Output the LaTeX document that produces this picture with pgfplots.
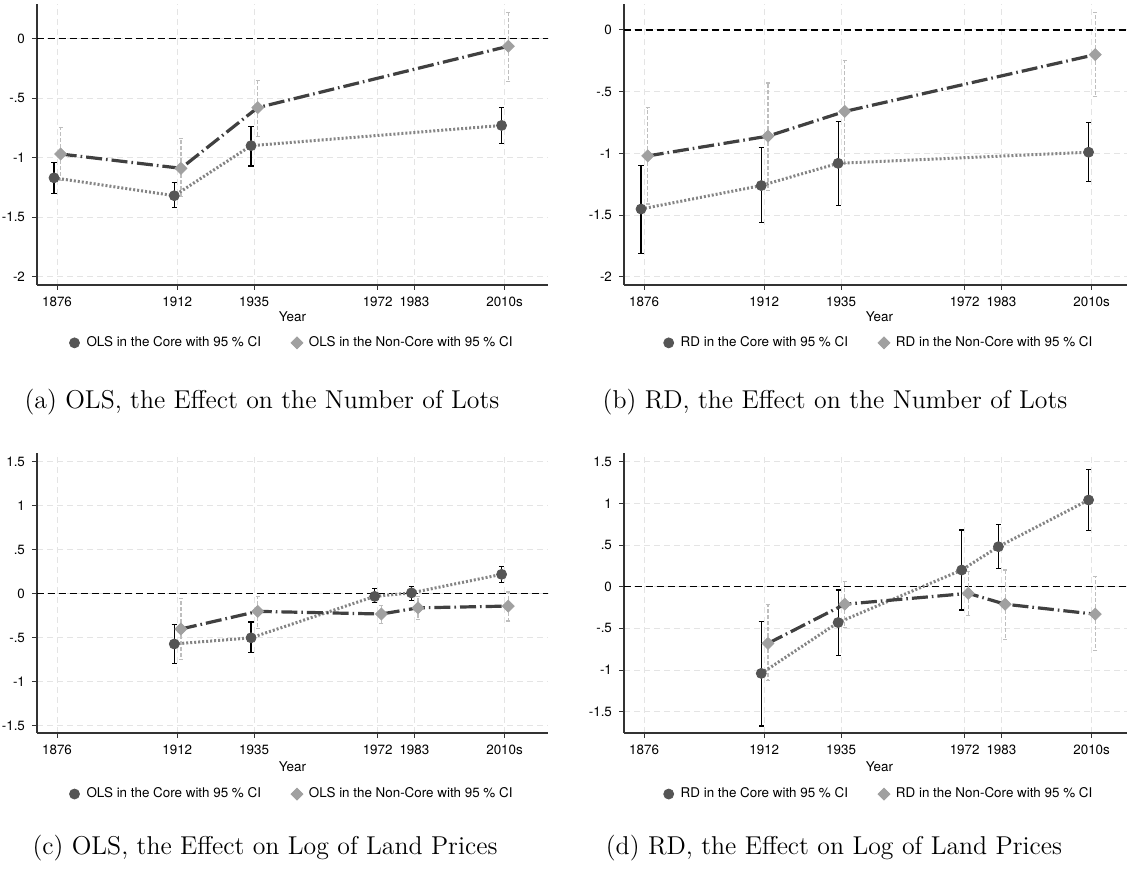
\documentclass[border=0pt]{standalone}
\usepackage{fontspec}
\usepackage{pgfplots}
\usepackage{pgfplotstable}
\pgfplotsset{compat=1.18}
\newfontfamily\statafont{TeX Gyre Heros}
\newcommand{\sfs}{\statafont\fontsize{6.7}{8}\selectfont}
\newcommand{\capfont}{\fontsize{12.9}{15}\selectfont}
\definecolor{coremark}{HTML}{555555}
\definecolor{coreline}{HTML}{848484}
\definecolor{ncmark}{HTML}{A0A0A0}
\definecolor{ncline}{HTML}{404040}
\definecolor{ncci}{HTML}{BEBEBE}
\definecolor{gridc}{HTML}{E4E4E4}

% panel (a): OLS, number of lots
\pgfplotstableread{
x y lo hi
1876 -1.17 -1.30 -1.04
1912 -1.32 -1.42 -1.21
1935 -0.90 -1.07 -0.74
2010 -0.73 -0.88 -0.58
}\coreA
\pgfplotstableread{
x y lo hi
1876 -0.97 -1.19 -0.75
1912 -1.09 -1.33 -0.84
1935 -0.58 -0.82 -0.35
2010 -0.065 -0.36 0.22
}\ncA
% panel (b): RD, number of lots
\pgfplotstableread{
x y lo hi
1876 -1.45 -1.81 -1.10
1912 -1.26 -1.56 -0.95
1935 -1.08 -1.42 -0.74
2010 -0.99 -1.23 -0.75
}\coreB
\pgfplotstableread{
x y lo hi
1876 -1.02 -1.41 -0.63
1912 -0.86 -1.30 -0.43
1935 -0.66 -1.08 -0.25
2010 -0.20 -0.54 0.14
}\ncB
% panel (c): OLS, log land prices
\pgfplotstableread{
x y lo hi
1912 -0.57 -0.79 -0.35
1935 -0.50 -0.67 -0.32
1972 -0.03 -0.10 0.06
1983 0.01 -0.08 0.08
2010 0.22 0.13 0.31
}\coreC
\pgfplotstableread{
x y lo hi
1912 -0.40 -0.75 -0.05
1935 -0.20 -0.39 -0.03
1972 -0.23 -0.34 -0.13
1983 -0.16 -0.29 -0.03
2010 -0.14 -0.31 0.02
}\ncC
% panel (d): RD, log land prices
\pgfplotstableread{
x y lo hi
1912 -1.04 -1.67 -0.42
1935 -0.43 -0.83 -0.04
1972 0.20 -0.28 0.68
1983 0.48 0.22 0.75
2010 1.04 0.67 1.41
}\coreD
\pgfplotstableread{
x y lo hi
1912 -0.68 -1.13 -0.21
1935 -0.21 -0.49 0.06
1972 -0.08 -0.35 0.18
1983 -0.21 -0.63 0.20
2010 -0.33 -0.77 0.12
}\ncD

\pgfplotsset{
  legend image code/.code={\draw[#1,/tikz/only marks] plot coordinates {(3pt,0pt)}; \path[draw=none,fill=none] (0pt,0pt) (7pt,0pt);},
  panel/.style={
    scale only axis, width=255.5pt,
    xmin=1870, xmax=2023,
    axis x line*=bottom, axis y line*=left,
    axis line style={black!80, line width=0.6pt},
    tick align=outside, major tick length=2.5pt,
    tick style={black!80, line width=0.5pt},
    xtick={1876,1912,1935,1972,1983,2010},
    xticklabels={1876,1912,1935,1972,1983,2010s},
    tick label style={font=\sfs},
    grid=major,
    major grid style={gridc, dash pattern=on 3pt off 2pt, line width=0.5pt},
    xlabel={Year}, xlabel style={font=\sfs, anchor=center},
    legend columns=2,
    legend cell align=left,
    legend style={draw=none, fill=none, font=\sfs, anchor=center,
      /tikz/every even column/.append style={column sep=13pt}},
  },
  lots/.style={ytick={-2,-1.5,-1,-0.5,0}, yticklabels={-2,-1.5,-1,-.5,0}},
  land/.style={ytick={-1.5,-1,-0.5,0,0.5,1,1.5}, yticklabels={-1.5,-1,-.5,0,.5,1,1.5}},
  zeroline/.style={black, line width=0.6pt, dash pattern=on 3.5pt off 2pt, forget plot},
  coremk/.style={only marks, mark=*, mark size=2.5pt, mark options={fill=coremark, draw=coremark},
    error bars/.cd, y dir=both, y explicit,
    error bar style={black, solid, line width=0.6pt},
    error mark options={rotate=90, mark size=1.3pt, line width=0.6pt, black, solid}},
  ncmk/.style={only marks, mark=square*, mark size=2.1pt, mark options={rotate=45, fill=ncmark, draw=ncmark},
    error bars/.cd, y dir=both, y explicit,
    error bar style={ncci, dash pattern=on 2pt off 1pt, line width=0.6pt},
    error mark options={rotate=90, mark size=1pt, line width=0.6pt, ncci, solid}},
  coreln/.style={coreline, line width=1.5pt, dash pattern=on 1pt off 1pt, mark=none, forget plot},
  ncln/.style={ncline, line width=1.6pt, dash pattern=on 8pt off 2pt on 0.8pt off 2pt, mark=none, forget plot},
}

\begin{document}
\begin{tikzpicture}
\useasboundingbox (0,0) rectangle (563.5pt,435.5pt);

% ---------- (a)
\begin{axis}[panel, lots, at={(18.5pt,293pt)}, anchor=south west, height=140.5pt,
  ymin=-2.07, ymax=0.29,
  xlabel style={at={(axis description cs:0.5,-0.114)}},
  legend style={at={(0.5,-0.206)}}]
\addplot[zeroline] coordinates {(1860,0) (2040,0)};
\addplot[coremk] table[x expr=\thisrow{x}-0.9, y=y, y error plus expr=\thisrow{hi}-\thisrow{y}, y error minus expr=\thisrow{y}-\thisrow{lo}] {\coreA};
\addplot[ncmk] table[x expr=\thisrow{x}+1.1, y=y, y error plus expr=\thisrow{hi}-\thisrow{y}, y error minus expr=\thisrow{y}-\thisrow{lo}] {\ncA};
\addplot[coreln] table[x expr=\thisrow{x}-0.9, y=y] {\coreA};
\addplot[ncln] table[x expr=\thisrow{x}+1.1, y=y] {\ncA};
\legend{OLS in the Core with 95 \% CI, OLS in the Non-Core with 95 \% CI}
\end{axis}

% ---------- (b)
\begin{axis}[panel, lots, at={(312pt,293pt)}, anchor=south west, height=140.5pt,
  ymin=-2.065, ymax=0.21,
  xlabel style={at={(axis description cs:0.5,-0.114)}},
  legend style={at={(0.5,-0.206)}}]
\addplot[zeroline] coordinates {(1860,0) (2040,0)};
\addplot[coremk] table[x expr=\thisrow{x}-0.9, y=y, y error plus expr=\thisrow{hi}-\thisrow{y}, y error minus expr=\thisrow{y}-\thisrow{lo}] {\coreB};
\addplot[ncmk] table[x expr=\thisrow{x}+1.1, y=y, y error plus expr=\thisrow{hi}-\thisrow{y}, y error minus expr=\thisrow{y}-\thisrow{lo}] {\ncB};
\addplot[coreln] table[x expr=\thisrow{x}-0.9, y=y] {\coreB};
\addplot[ncln] table[x expr=\thisrow{x}+1.1, y=y] {\ncB};
\legend{RD in the Core with 95 \% CI, RD in the Non-Core with 95 \% CI}
\end{axis}

% ---------- (c)
\begin{axis}[panel, land, at={(18.5pt,69pt)}, anchor=south west, height=140pt,
  ymin=-1.58, ymax=1.597,
  xlabel style={at={(axis description cs:0.5,-0.121)}},
  legend style={at={(0.5,-0.218)}}]
\addplot[zeroline] coordinates {(1860,0) (2040,0)};
\addplot[coremk] table[x expr=\thisrow{x}-0.9, y=y, y error plus expr=\thisrow{hi}-\thisrow{y}, y error minus expr=\thisrow{y}-\thisrow{lo}] {\coreC};
\addplot[ncmk] table[x expr=\thisrow{x}+1.1, y=y, y error plus expr=\thisrow{hi}-\thisrow{y}, y error minus expr=\thisrow{y}-\thisrow{lo}] {\ncC};
\addplot[coreln] table[x expr=\thisrow{x}-0.9, y=y] {\coreC};
\addplot[ncln] table[x expr=\thisrow{x}+1.1, y=y] {\ncC};
\legend{OLS in the Core with 95 \% CI, OLS in the Non-Core with 95 \% CI}
\end{axis}

% ---------- (d)
\begin{axis}[panel, land, at={(312pt,69pt)}, anchor=south west, height=140pt,
  ymin=-1.755, ymax=1.604,
  xlabel style={at={(axis description cs:0.5,-0.121)}},
  legend style={at={(0.5,-0.218)}}]
\addplot[zeroline] coordinates {(1860,0) (2040,0)};
\addplot[coremk] table[x expr=\thisrow{x}-0.9, y=y, y error plus expr=\thisrow{hi}-\thisrow{y}, y error minus expr=\thisrow{y}-\thisrow{lo}] {\coreD};
\addplot[ncmk] table[x expr=\thisrow{x}+1.1, y=y, y error plus expr=\thisrow{hi}-\thisrow{y}, y error minus expr=\thisrow{y}-\thisrow{lo}] {\ncD};
\addplot[coreln] table[x expr=\thisrow{x}-0.9, y=y] {\coreD};
\addplot[ncln] table[x expr=\thisrow{x}+1.1, y=y] {\ncD};
\legend{RD in the Core with 95 \% CI, RD in the Non-Core with 95 \% CI}
\end{axis}

\node[font=\capfont] at (131pt,234.5pt) {(a) OLS, the Effect on the Number of Lots};
\node[font=\capfont] at (417.5pt,234.5pt) {(b) RD, the Effect on the Number of Lots};
\node[font=\capfont] at (132.5pt,11.5pt) {(c) OLS, the Effect on Log of Land Prices};
\node[font=\capfont] at (417pt,11.5pt) {(d) RD, the Effect on Log of Land Prices};
\end{tikzpicture}
\end{document}
